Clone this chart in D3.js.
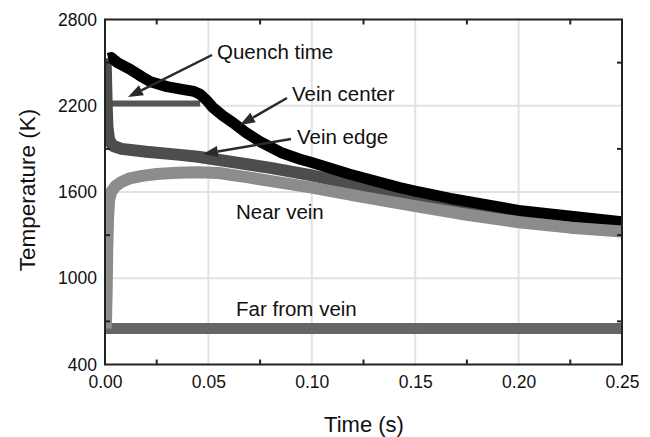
<!DOCTYPE html>
<html>
<head>
<meta charset="utf-8">
<script src="https://cdn.jsdelivr.net/npm/d3@7/dist/d3.min.js"></script>
<style>
  html, body { margin: 0; padding: 0; background: #fff; }
  svg { display: block; font-family: "Liberation Sans", Arial, sans-serif; }
</style>
</head>
<body>
<svg id="chart" width="650" height="437"></svg>
<script>
// ---- data ----
const xTicks = [0.00, 0.05, 0.10, 0.15, 0.20, 0.25];
const xTickLabels = ["0.00", "0.05", "0.10", "0.15", "0.20", "0.25"];
const xMinorTicks = [0.025, 0.075, 0.125, 0.175, 0.225];
const yTicks = [400, 1000, 1600, 2200, 2800];
const yMinorTicks = [700, 1300, 1900, 2500];

const veinCenterT = [0.0015, 0.003, 0.006, 0.012, 0.018, 0.022, 0.030, 0.038, 0.043, 0.046, 0.049, 0.052, 0.057, 0.062, 0.068, 0.075, 0.085, 0.094, 0.100, 0.118, 0.142, 0.150, 0.167, 0.200, 0.250];
const veinCenterK = [2530, 2535, 2500, 2455, 2400, 2367, 2333, 2312, 2300, 2280, 2240, 2190, 2130, 2081, 2015, 1950, 1875, 1830, 1805, 1725, 1632, 1606, 1555, 1472, 1393];

const veinEdgeT = [0.0003, 0.0008, 0.0012, 0.002, 0.004, 0.008, 0.020, 0.035, 0.045, 0.060, 0.080, 0.100, 0.125, 0.150, 0.175, 0.200, 0.225, 0.250];
const veinEdgeK = [2530, 2215, 2050, 1960, 1920, 1900, 1880, 1860, 1845, 1812, 1768, 1715, 1635, 1565, 1500, 1440, 1395, 1358];

const nearVeinT = [0.0004, 0.0008, 0.0011, 0.0015, 0.002, 0.003, 0.005, 0.008, 0.012, 0.018, 0.025, 0.035, 0.045, 0.055, 0.070, 0.085, 0.100, 0.125, 0.150, 0.175, 0.200, 0.225, 0.250];
const nearVeinK = [650, 900, 1200, 1420, 1545, 1600, 1640, 1670, 1695, 1712, 1725, 1734, 1738, 1732, 1700, 1665, 1630, 1565, 1502, 1442, 1390, 1352, 1325];

const farVeinT = [0.0, 0.25];
const farVeinK = [650, 650];

const quenchT = [0.0, 0.046];
const quenchK = [2215, 2215];

// ---- layout ----
const svg = d3.select("#chart");
const L = 105, R = 622, T = 19.5, B = 364.5;
const x = d3.scaleLinear().domain([0, 0.25]).range([L, R]);
const y = d3.scaleLinear().domain([400, 2800]).range([B, T]);

svg.append("defs").append("clipPath").attr("id", "clip")
  .append("rect").attr("x", L).attr("y", T).attr("width", R - L).attr("height", B - T);

// grid
const grid = svg.append("g");
grid.selectAll(".gx").data(xTicks.slice(1, -1)).join("line")
  .attr("x1", d => x(d)).attr("x2", d => x(d)).attr("y1", T).attr("y2", B)
  .attr("stroke", "#e2e2e2").attr("stroke-width", 2);
grid.selectAll(".gy").data(yTicks.slice(1, -1)).join("line")
  .attr("x1", L).attr("x2", R).attr("y1", d => y(d)).attr("y2", d => y(d))
  .attr("stroke", "#e2e2e2").attr("stroke-width", 2);

// lines
const lineLin = d3.line().x(d => x(d[0])).y(d => y(d[1]));
function series(ts, ks) { return ts.map((t, i) => [t, ks[i]]); }

const plot = svg.append("g").attr("clip-path", "url(#clip)");
plot.append("path").attr("d", lineLin(series(farVeinT, farVeinK)))
  .attr("fill", "none").attr("stroke", "#666").attr("stroke-width", 11);
plot.append("path").attr("d", lineLin(series(quenchT, quenchK)))
  .attr("fill", "none").attr("stroke", "#555").attr("stroke-width", 6);
plot.append("path").attr("d", lineLin(series(veinEdgeT, veinEdgeK)))
  .attr("fill", "none").attr("stroke", "#4d4d4d").attr("stroke-width", 12).attr("stroke-linejoin", "round");
plot.append("path").attr("d", lineLin(series(veinCenterT, veinCenterK)))
  .attr("fill", "none").attr("stroke", "#000").attr("stroke-width", 11).attr("stroke-linejoin", "round");
plot.append("path").attr("d", lineLin(series(nearVeinT, nearVeinK)))
  .attr("fill", "none").attr("stroke", "#8c8c8c").attr("stroke-width", 12).attr("stroke-linejoin", "round");

// frame
svg.append("rect").attr("x", L).attr("y", T).attr("width", R - L).attr("height", B - T)
  .attr("fill", "none").attr("stroke", "#222").attr("stroke-width", 2);

// axes
const xAxis = d3.axisBottom(x).tickValues(xTicks).tickFormat((d, i) => xTickLabels[i]).tickSize(0).tickPadding(11);
const gx = svg.append("g").attr("transform", `translate(0,${B})`).call(xAxis);
gx.select(".domain").remove();
gx.selectAll("text").attr("font-size", 17.5).attr("fill", "#111").attr("font-family", "Liberation Sans, Arial, sans-serif");

const yAxis = d3.axisLeft(y).tickValues(yTicks).tickFormat(d3.format("d")).tickSize(0).tickPadding(8);
const gy = svg.append("g").attr("transform", `translate(${L},0)`).call(yAxis);
gy.select(".domain").remove();
gy.selectAll("text").attr("font-size", 17.5).attr("fill", "#111").attr("font-family", "Liberation Sans, Arial, sans-serif");

// minor inward ticks
const tk = svg.append("g").attr("stroke", "#222").attr("stroke-width", 2);
xMinorTicks.forEach(t => {
  tk.append("line").attr("x1", x(t)).attr("x2", x(t)).attr("y1", B).attr("y2", B - 5);
  tk.append("line").attr("x1", x(t)).attr("x2", x(t)).attr("y1", T).attr("y2", T + 5);
});
yMinorTicks.forEach(v => {
  tk.append("line").attr("x1", R).attr("x2", R - 5).attr("y1", y(v)).attr("y2", y(v));
  tk.append("line").attr("x1", L).attr("x2", L + 5).attr("y1", y(v)).attr("y2", y(v));
});

// axis titles
svg.append("text").attr("x", 364).attr("y", 424).attr("text-anchor", "middle")
  .attr("dominant-baseline", "central").attr("font-size", 22).attr("fill", "#111").text("Time (s)");
svg.append("text").attr("transform", "translate(27,190) rotate(-90)").attr("text-anchor", "middle")
  .attr("dominant-baseline", "central").attr("font-size", 22.5).attr("fill", "#111").text("Temperature (K)");

// annotations
const labels = [
  { text: "Quench time", x: 217, y: 51 },
  { text: "Vein center", x: 292, y: 93 },
  { text: "Vein edge", x: 297, y: 136 },
  { text: "Near vein", x: 236, y: 211 },
  { text: "Far from vein", x: 236, y: 308 }
];
svg.selectAll(".ann").data(labels).join("text")
  .attr("x", d => d.x).attr("y", d => d.y).attr("dominant-baseline", "central")
  .attr("font-size", 20.5).attr("fill", "#111").text(d => d.text);

const arrows = [
  { x1: 212, y1: 55, x2: 128, y2: 97 },
  { x1: 287, y1: 98, x2: 240, y2: 125 },
  { x1: 291, y1: 139, x2: 203, y2: 154 }
];
arrows.forEach(a => {
  const ang = Math.atan2(a.y2 - a.y1, a.x2 - a.x1);
  const hl = 15, hw = 5.5;
  const bx = a.x2 - hl * Math.cos(ang), by = a.y2 - hl * Math.sin(ang);
  svg.append("line").attr("x1", a.x1).attr("y1", a.y1).attr("x2", bx).attr("y2", by)
    .attr("stroke", "#2a2a2a").attr("stroke-width", 2.5);
  const px = -Math.sin(ang) * hw, py = Math.cos(ang) * hw;
  svg.append("path")
    .attr("d", `M${a.x2},${a.y2}L${bx + px},${by + py}L${bx - px},${by - py}Z`)
    .attr("fill", "#2a2a2a");
});
</script>
</body>
</html>
